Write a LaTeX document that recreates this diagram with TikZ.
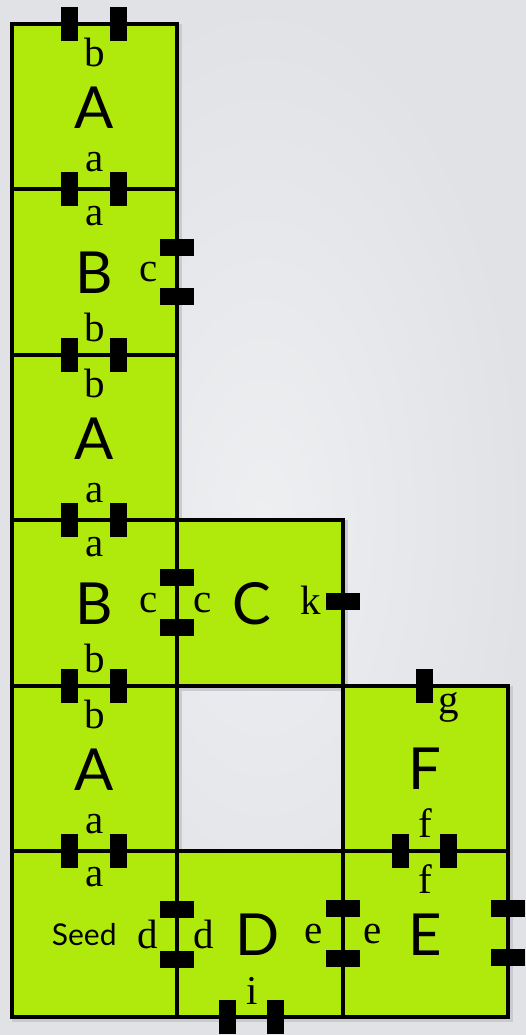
\documentclass[tikz,border=0pt]{standalone}
\usepackage{fontspec}
\setmainfont{Liberation Serif}
\newfontfamily\tilefont{Lato}
\usepackage{tikz}
\usetikzlibrary{positioning, backgrounds}
\definecolor{tilegreen}{RGB}{176,234,12}
\definecolor{bgin}{RGB}{238,239,241}
\definecolor{bgout}{RGB}{224,226,230}
\definecolor{shadowgray}{RGB}{200,203,208}
\tikzset{
  tile/.style={rectangle, draw=black, fill=tilegreen, line width=4pt,
    minimum size=165.5pt, inner sep=0pt, outer sep=0pt},
  tilename/.style={font=\tilefont\fontsize{58}{58}\selectfont, inner sep=0pt},
  seedname/.style={font=\tilefont\fontsize{30}{30}\selectfont, inner sep=0pt},
  gluelabel/.style={font=\fontsize{41}{41}\selectfont, inner sep=0pt},
  hglue/.style={rectangle, fill=black, minimum width=17pt,
    minimum height=34pt, inner sep=0pt},
  vglue/.style={rectangle, fill=black, minimum width=34pt,
    minimum height=17pt, inner sep=0pt}
}

\begin{document}
\begin{tikzpicture}[node distance=0pt]
  \useasboundingbox (0,0) rectangle (526pt,1035pt);

  % Tiles
  \node[tile] (seed) at (94.25pt,100.75pt) {};
  \node[tile, above=of seed] (aThree) {};
  \node[tile, above=of aThree] (bTwo) {};
  \node[tile, above=of bTwo] (aTwo) {};
  \node[tile, above=of aTwo] (bOne) {};
  \node[tile, above=of bOne] (aOne) {};
  \node[tile, right=of bTwo] (tileC) {};
  \node[tile, right=of seed] (tileD) {};
  \node[tile, right=of tileD] (tileE) {};
  \node[tile, above=of tileE] (tileF) {};

  % Tile names
  \node[tilename] (nameAOne) at ([yshift=-1pt]aOne) {A};
  \node[tilename] (nameBOne) at (bOne) {B};
  \node[tilename] (nameATwo) at ([yshift=-1pt]aTwo) {A};
  \node[tilename] (nameBTwo) at (bTwo) {B};
  \node[tilename] (nameAThree) at ([yshift=-1pt]aThree) {A};
  \node[tilename] (nameC) at ([xshift=-8pt]tileC) {C};
  \node[tilename] (nameD) at ([xshift=-2pt]tileD) {D};
  \node[tilename] (nameE) at (tileE) {E};
  \node[tilename] (nameF) at (tileF) {F};
  \node[seedname] (nameSeed) at ([xshift=-10pt]seed) {Seed};

  % Glues on horizontal edges
  \foreach \t/\e in {aOne/north, aOne/south, bOne/south, aTwo/south,
      bTwo/south, aThree/south} {
    \node[hglue] (\t\e l) at ([xshift=-24.5pt]\t.\e) {};
    \node[hglue] (\t\e r) at ([xshift=24.5pt]\t.\e) {};
  }
  \node[hglue] (tileDsouthl) at ([xshift=-32pt]tileD.south) {};
  \node[hglue] (tileDsouthr) at ([xshift=16pt]tileD.south) {};
  \node[hglue] (tileEnorthl) at ([xshift=-25pt]tileE.north) {};
  \node[hglue] (tileEnorthr) at ([xshift=23pt]tileE.north) {};
  \node[hglue] (tileFnorth) at ([xshift=-1pt]tileF.north) {};

  % Glues on vertical edges
  \node[vglue] (bOneeastt) at ([yshift=25pt]bOne.east) {};
  \node[vglue] (bOneeastb) at ([yshift=-24pt]bOne.east) {};
  \node[vglue] (bTwoeastt) at ([yshift=26pt]bTwo.east) {};
  \node[vglue] (bTwoeastb) at ([yshift=-24pt]bTwo.east) {};
  \node[vglue] (tileCeast) at ([yshift=2pt]tileC.east) {};
  \node[vglue] (seedeastt) at ([yshift=25pt]seed.east) {};
  \node[vglue] (seedeastb) at ([yshift=-25pt]seed.east) {};
  \node[vglue] (tileDeastt) at ([yshift=26pt]tileD.east) {};
  \node[vglue] (tileDeastb) at ([yshift=-24pt]tileD.east) {};
  \node[vglue] (tileEeastt) at ([yshift=26pt]tileE.east) {};
  \node[vglue] (tileEeastb) at ([yshift=-23pt]tileE.east) {};

  % Glue labels
  \node[gluelabel] (lblAOneN) at ([yshift=-28pt]aOne.north) {b};
  \node[gluelabel] (lblAOneS) at ([yshift=27pt]aOne.south) {a};
  \node[gluelabel] (lblBOneN) at ([yshift=-27pt]bOne.north) {a};
  \node[gluelabel] (lblBOneS) at ([yshift=28pt]bOne.south) {b};
  \node[gluelabel, anchor=east] (lblBOneE) at ([xshift=-19pt]bOne.east) {c};
  \node[gluelabel] (lblATwoN) at ([yshift=-28pt]aTwo.north) {b};
  \node[gluelabel] (lblATwoS) at ([yshift=27pt]aTwo.south) {a};
  \node[gluelabel] (lblBTwoN) at ([yshift=-27pt]bTwo.north) {a};
  \node[gluelabel] (lblBTwoS) at ([yshift=28pt]bTwo.south) {b};
  \node[gluelabel, anchor=east] (lblBTwoE) at ([xshift=-19pt]bTwo.east) {c};
  \node[gluelabel, anchor=west] (lblCW) at ([xshift=16pt]tileC.west) {c};
  \node[gluelabel, anchor=east] (lblCE) at ([xshift=-21pt,yshift=3pt]tileC.east) {k};
  \node[gluelabel] (lblAThreeN) at ([yshift=-28pt]aThree.north) {b};
  \node[gluelabel] (lblAThreeS) at ([yshift=27pt]aThree.south) {a};
  \node[gluelabel] (lblFN) at ([xshift=23pt,yshift=-21pt]tileF.north) {g};
  \node[gluelabel] (lblFS) at ([yshift=28pt]tileF.south) {f};
  \node[gluelabel] (lblSeedN) at ([yshift=-26pt]seed.north) {a};
  \node[gluelabel, anchor=east] (lblSeedE) at ([xshift=-19pt]seed.east) {d};
  \node[gluelabel, anchor=west] (lblDW) at ([xshift=16pt]tileD.west) {d};
  \node[gluelabel, anchor=east] (lblDE) at ([xshift=-20pt]tileD.east) {e};
  \node[gluelabel] (lblDS) at ([xshift=-8pt,yshift=26pt]tileD.south) {i};
  \node[gluelabel] (lblEN) at ([yshift=-28pt]tileE.north) {f};
  \node[gluelabel, anchor=west] (lblEW) at ([xshift=21pt]tileE.west) {e};

  % Backdrop and shadows
  \begin{scope}[on background layer]
    \shade[inner color=bgin, outer color=bgout] (0,0) rectangle (526pt,1035pt);
    \foreach \t in {aOne, bOne, aTwo, bTwo, aThree, seed, tileC, tileD, tileE, tileF}
      \fill[shadowgray] ([shift={(0pt,-5pt)}]\t.south west) rectangle ([shift={(5pt,0pt)}]\t.north east);
  \end{scope}
\end{tikzpicture}
\end{document}
